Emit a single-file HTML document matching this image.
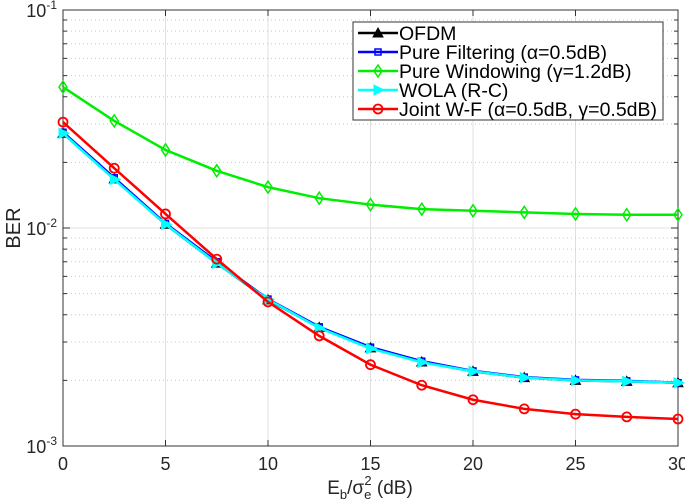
<!DOCTYPE html>
<html><head><meta charset="utf-8"><style>
body{margin:0;background:#fff;}
svg{display:block;font-family:"Liberation Sans",sans-serif;}
</style></head><body>
<svg id="chart" width="685" height="503"></svg>
<script>
const xs=[0,2.5,5,7.5,10,12.5,15,17.5,20,22.5,25,27.5,30];
const ofdm=[0.0272,0.0168,0.0104,0.0069,0.00468,0.0035,0.00282,0.00243,0.0022,0.00206,0.002,0.00198,0.00195];
const pureFilt=[0.0275,0.0170,0.0105,0.0070,0.00472,0.00352,0.00284,0.00245,0.00221,0.00207,0.00201,0.00199,0.00195];
const pureWin=[0.0443,0.031,0.0228,0.0183,0.0154,0.0137,0.0128,0.0122,0.0120,0.0118,0.0116,0.0115,0.0115];
const wola=[0.0272,0.0167,0.0104,0.0069,0.0047,0.00348,0.0028,0.00242,0.0022,0.00206,0.002,0.00198,0.00195];
const joint=[0.0306,0.0188,0.0116,0.0072,0.00458,0.0032,0.00236,0.0019,0.00163,0.00148,0.0014,0.00136,0.00133];
const xTicks=[0,5,10,15,20,25,30];
const yDecades=[-1,-2,-3];
const L=63,R=678,T=10,B=446;
const X=v=>L+(v-0)/30*(R-L);
const Y=v=>T+(-1-Math.log10(v))/2*(B-T);
const NS="http://www.w3.org/2000/svg";
const svg=document.getElementById('chart');
function mk(t,a,p){const e=document.createElementNS(NS,t);for(const k in a)e.setAttribute(k,a[k]);(p||svg).appendChild(e);return e;}
const grid=mk('g',{});


xTicks.forEach(t=>{mk('line',{x1:X(t),x2:X(t),y1:T,y2:B,stroke:'#e0e0e0','stroke-width':1},grid);});
[-2].forEach(d=>mk('line',{x1:L,x2:R,y1:Y(Math.pow(10,d)),y2:Y(Math.pow(10,d)),stroke:'#e0e0e0'},grid));
[-2,-3].forEach(d=>{for(let m=2;m<=9;m++){const y=Y(m*Math.pow(10,d));mk('line',{x1:L,x2:R,y1:y,y2:y,stroke:'#c8c8c8','stroke-dasharray':'1,3'},grid);
mk('line',{x1:L,x2:L+4,y1:y,y2:y,stroke:'#333'},grid);mk('line',{x1:R,x2:R-4,y1:y,y2:y,stroke:'#333'},grid);}});
const box=mk('rect',{x:L,y:T,width:R-L,height:B-T,fill:'none',stroke:'#333','stroke-width':1});


xTicks.forEach(t=>{mk('line',{x1:X(t),x2:X(t),y1:B,y2:B-6,stroke:'#333'});mk('line',{x1:X(t),x2:X(t),y1:T,y2:T+6,stroke:'#333'});
const tx=mk('text',{x:X(t),y:B+24,'text-anchor':'middle','font-size':18,fill:'#262626'});tx.textContent=t;

});
yDecades.forEach(d=>{const y=Y(Math.pow(10,d));
mk('line',{x1:L,x2:L+7,y1:y,y2:y,stroke:'#333'});mk('line',{x1:R,x2:R-7,y1:y,y2:y,stroke:'#333'});
const tx=mk('text',{x:L-6,y:y+7,'text-anchor':'end','font-size':18,fill:'#262626'});
tx.innerHTML='10<tspan dy="-8" font-size="12">'+d+'</tspan>';

});
const yt=mk('text',{x:0,y:0,transform:'translate(20,228) rotate(-90)','text-anchor':'middle','font-size':20,fill:'#262626'});yt.textContent='BER';


const xt=mk('text',{x:370,y:494,'text-anchor':'middle','font-size':19,fill:'#262626'});
xt.innerHTML='E<tspan dy="5" font-size="13">b</tspan><tspan dy="-5">/σ</tspan><tspan dy="5" font-size="13">e</tspan><tspan dx="-7" dy="-14" font-size="13">2</tspan><tspan dy="9"> (dB)</tspan>';


function marker(g,type,x,y,c){
 if(type==='tri')mk('path',{d:`M${x},${y-5}L${x+5},${y+4}L${x-5},${y+4}Z`,fill:c,stroke:c},g);
 else if(type==='sq')mk('rect',{x:x-3,y:y-3,width:6,height:6,fill:'none',stroke:c,'stroke-width':1.5},g);
 else if(type==='dia')mk('path',{d:`M${x},${y-6}L${x+4},${y}L${x},${y+6}L${x-4},${y}Z`,fill:'none',stroke:c,'stroke-width':1.5},g);
 else if(type==='rt')mk('path',{d:`M${x+6},${y}L${x-4},${y-5}L${x-4},${y+5}Z`,fill:c,stroke:c},g);
 else mk('circle',{cx:x,cy:y,r:4.5,fill:'none',stroke:c,'stroke-width':1.8},g);
}
const series=[['ofdm',ofdm,'#000','tri','OFDM'],['pure-filtering',pureFilt,'#0000ff','sq','Pure Filtering (α=0.5dB)'],['pure-windowing',pureWin,'#00ee00','dia','Pure Windowing (γ=1.2dB)'],['wola',wola,'#00ffff','rt','WOLA (R-C)'],['joint-wf',joint,'#ff0000','ci','Joint W-F (α=0.5dB, γ=0.5dB)']];
series.forEach(s=>{const g=mk('g',{});


mk('polyline',{points:xs.map((x,i)=>X(x)+','+Y(s[1][i])).join(' '),fill:'none',stroke:s[2],'stroke-width':2.5},g);
xs.forEach((x,i)=>marker(g,s[3],X(x),Y(s[1][i]),s[2]));});
const lg=mk('g',{});


mk('rect',{x:353,y:22,width:310,height:98,fill:'#fff',stroke:'#333'},lg);
series.forEach((s,i)=>{const y=33+i*19;const e=mk('g',{},lg);


mk('line',{x1:358,x2:398,y1:y,y2:y,stroke:s[2],'stroke-width':2.5},e);marker(e,s[3],378,y,s[2]);
const t=mk('text',{x:399,y:y+7,'font-size':19.5,fill:'#000'},e);t.textContent=s[4];});
</script>
</body></html>
